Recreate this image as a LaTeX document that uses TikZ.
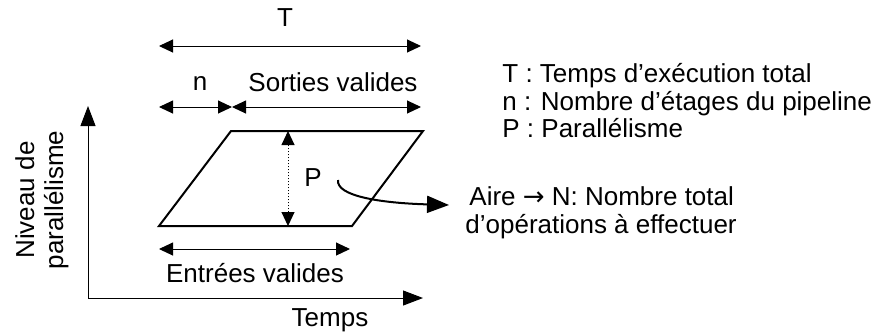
\documentclass[tikz,border=0pt]{standalone}
\usepackage{fontspec}
\setmainfont{Liberation Sans}
\newfontfamily\arrowfont{DejaVu Sans}
\usetikzlibrary{arrows.meta}
\begin{document}
\begin{tikzpicture}[x=0.5pt,y=-0.5pt]
\tikzstyle{lbl}=[inner sep=0pt, font=\fontsize{13}{13.75}\selectfont]
\tikzstyle{dim}=[draw, line width=0.5pt, {Triangle[length=7pt,width=6.5pt]}-{Triangle[length=7pt,width=6.5pt]}]
\tikzstyle{axis}=[draw, line width=0.5pt, -{Triangle[length=10pt,width=7.5pt]}]
\tikzstyle{area}=[draw, line width=1pt, line join=miter]
\tikzstyle{flow}=[draw, line width=1pt, -{Triangle[length=11pt,width=8.5pt]}]

\useasboundingbox (0,0) rectangle (881,334);

% Axes
\coordinate (origin) at (88,298);
\coordinate (ytip) at (88,106);
\coordinate (xtip) at (423,298);
\draw[axis] (origin) -- (ytip);
\draw[axis] (origin) -- (xtip);
\node[lbl] (temps) at (330,320) {Temps};
\node[lbl, rotate=90, align=center, font=\fontsize{13}{14.5}\selectfont] (niveau) at (42,200) {Niveau de\\parallélisme};

% Parallelogram
\coordinate (bl) at (159,226);
\coordinate (br) at (352,226);
\coordinate (tr) at (423,131);
\coordinate (tl) at (231,131);
\draw[area] (bl) -- (br) -- (tr) -- (tl) -- cycle;

% Total time
\coordinate (t0) at (159,46);
\coordinate (t1) at (421,46);
\draw[dim] (t0) -- (t1);
\node[lbl] (tlab) at (285,18) {T};

% Pipeline stages and valid outputs
\coordinate (s0) at (159,107);
\coordinate (s1) at (232,107);
\coordinate (s2) at (421,107);
\draw[dim] (s0) -- (s1);
\draw[dim] (s1) -- (s2);
\node[lbl] (nlab) at (200,83) {n};
\node[lbl] (sorties) at (333,82) {Sorties valides};

% Valid inputs
\coordinate (e0) at (159,249);
\coordinate (e1) at (350,249);
\draw[dim] (e0) -- (e1);
\node[lbl] (entrees) at (255,273) {Entrées valides};

% Parallelism height
\coordinate (ptop) at (288,131);
\coordinate (pbot) at (288,226);
\draw[dim, densely dotted] (pbot) -- (ptop);
\node[lbl] (plab) at (313,178) {P};

% Area
\coordinate (pstart) at (338,180);
\coordinate (atip) at (449,205);
\draw[flow] (pstart) .. controls (336,196) and (380,203) .. (atip);
\node[lbl, anchor=west, align=left] (aire) at (465,213) {\hspace{2pt}Aire {\arrowfont →} N: Nombre total\\d’opérations à effectuer};

% Legend
\node[lbl, anchor=west, align=left] (legend) at (502,101) {T : Temps d’exécution total\\n : Nombre d’étages du pipeline\\P : Parallélisme};
\end{tikzpicture}
\end{document}
